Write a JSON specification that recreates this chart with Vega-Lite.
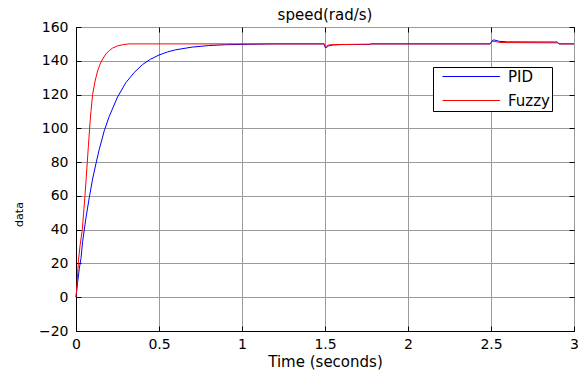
{
  "$schema": "https://vega.github.io/schema/vega-lite/v6.json",
  "width": 498,
  "height": 304,
  "autosize": {"type": "none"},
  "padding": {"left": 76, "top": 27, "right": 7, "bottom": 43},
  "background": "white",
  "title": {"text": "speed(rad/s)", "fontSize": 15, "fontWeight": "normal", "font": "DejaVu Sans", "color": "black", "offset": -3},
  "data": {"values": [
    {"t": 0, "v": 0, "c": "PID"},
    {"t": 0.01, "v": 9, "c": "PID"},
    {"t": 0.02, "v": 17, "c": "PID"},
    {"t": 0.03, "v": 23, "c": "PID"},
    {"t": 0.04, "v": 33, "c": "PID"},
    {"t": 0.06, "v": 47, "c": "PID"},
    {"t": 0.08, "v": 59, "c": "PID"},
    {"t": 0.1, "v": 70, "c": "PID"},
    {"t": 0.12, "v": 79, "c": "PID"},
    {"t": 0.14, "v": 87.5, "c": "PID"},
    {"t": 0.17, "v": 98.5, "c": "PID"},
    {"t": 0.2, "v": 107, "c": "PID"},
    {"t": 0.25, "v": 118.5, "c": "PID"},
    {"t": 0.3, "v": 127, "c": "PID"},
    {"t": 0.35, "v": 133, "c": "PID"},
    {"t": 0.4, "v": 137.7, "c": "PID"},
    {"t": 0.45, "v": 141, "c": "PID"},
    {"t": 0.5, "v": 143.4, "c": "PID"},
    {"t": 0.55, "v": 145.2, "c": "PID"},
    {"t": 0.6, "v": 146.5, "c": "PID"},
    {"t": 0.7, "v": 148.1, "c": "PID"},
    {"t": 0.8, "v": 149, "c": "PID"},
    {"t": 0.9, "v": 149.5, "c": "PID"},
    {"t": 1.0, "v": 149.7, "c": "PID"},
    {"t": 1.2, "v": 150, "c": "PID"},
    {"t": 1.495, "v": 150, "c": "PID"},
    {"t": 1.5, "v": 148, "c": "PID"},
    {"t": 1.51, "v": 147.8, "c": "PID"},
    {"t": 1.52, "v": 148.8, "c": "PID"},
    {"t": 1.55, "v": 149.4, "c": "PID"},
    {"t": 1.6, "v": 149.6, "c": "PID"},
    {"t": 1.77, "v": 149.7, "c": "PID"},
    {"t": 1.78, "v": 150, "c": "PID"},
    {"t": 2.495, "v": 150, "c": "PID"},
    {"t": 2.51, "v": 152.2, "c": "PID"},
    {"t": 2.52, "v": 152.3, "c": "PID"},
    {"t": 2.55, "v": 151.5, "c": "PID"},
    {"t": 2.6, "v": 151.2, "c": "PID"},
    {"t": 2.9, "v": 151.1, "c": "PID"},
    {"t": 2.91, "v": 150, "c": "PID"},
    {"t": 3.0, "v": 150, "c": "PID"},
    {"t": 0, "v": 0, "c": "Fuzzy"},
    {"t": 0.005, "v": 6, "c": "Fuzzy"},
    {"t": 0.01, "v": 14, "c": "Fuzzy"},
    {"t": 0.015, "v": 22, "c": "Fuzzy"},
    {"t": 0.025, "v": 31, "c": "Fuzzy"},
    {"t": 0.038, "v": 40, "c": "Fuzzy"},
    {"t": 0.046, "v": 50, "c": "Fuzzy"},
    {"t": 0.054, "v": 60, "c": "Fuzzy"},
    {"t": 0.061, "v": 70, "c": "Fuzzy"},
    {"t": 0.068, "v": 80, "c": "Fuzzy"},
    {"t": 0.075, "v": 90, "c": "Fuzzy"},
    {"t": 0.082, "v": 100, "c": "Fuzzy"},
    {"t": 0.09, "v": 110, "c": "Fuzzy"},
    {"t": 0.1, "v": 120, "c": "Fuzzy"},
    {"t": 0.115, "v": 128, "c": "Fuzzy"},
    {"t": 0.13, "v": 134, "c": "Fuzzy"},
    {"t": 0.145, "v": 138, "c": "Fuzzy"},
    {"t": 0.16, "v": 141, "c": "Fuzzy"},
    {"t": 0.18, "v": 144, "c": "Fuzzy"},
    {"t": 0.2, "v": 146, "c": "Fuzzy"},
    {"t": 0.22, "v": 147.5, "c": "Fuzzy"},
    {"t": 0.25, "v": 148.8, "c": "Fuzzy"},
    {"t": 0.28, "v": 149.5, "c": "Fuzzy"},
    {"t": 0.32, "v": 150, "c": "Fuzzy"},
    {"t": 1.495, "v": 150, "c": "Fuzzy"},
    {"t": 1.5, "v": 148.6, "c": "Fuzzy"},
    {"t": 1.51, "v": 148.6, "c": "Fuzzy"},
    {"t": 1.52, "v": 149.3, "c": "Fuzzy"},
    {"t": 1.55, "v": 149.6, "c": "Fuzzy"},
    {"t": 1.77, "v": 149.8, "c": "Fuzzy"},
    {"t": 1.78, "v": 150, "c": "Fuzzy"},
    {"t": 2.495, "v": 150, "c": "Fuzzy"},
    {"t": 2.51, "v": 151.6, "c": "Fuzzy"},
    {"t": 2.53, "v": 151.3, "c": "Fuzzy"},
    {"t": 2.56, "v": 150.8, "c": "Fuzzy"},
    {"t": 2.9, "v": 150.6, "c": "Fuzzy"},
    {"t": 2.91, "v": 150, "c": "Fuzzy"},
    {"t": 3.0, "v": 150, "c": "Fuzzy"}
  ]},
  "layer": [
    {
      "mark": {"type": "line", "strokeWidth": 1, "interpolate": "linear"},
      "encoding": {
        "x": {"field": "t", "type": "quantitative",
          "scale": {"domain": [0, 3], "nice": false, "zero": false},
          "axis": {"orient": "bottom", "title": "Time (seconds)", "values": [0, 0.5, 1, 1.5, 2, 2.5, 3], "labelExpr": "datum.value + ''", "labelFlush": false, "labelOverlap": false, "labelPadding": 11, "titlePadding": 3, "ticks": true, "tickSize": -5, "tickColor": "black"}},
        "y": {"field": "v", "type": "quantitative",
          "scale": {"domain": [-20, 160], "nice": false, "zero": false},
          "axis": {"orient": "left", "title": "data", "values": [-20, 0, 20, 40, 60, 80, 100, 120, 140, 160], "labelPadding": 13, "labelOverlap": false, "titleFontSize": 11, "titleX": -52, "titleY": 187, "titleAlign": "center", "titleAngle": -90, "ticks": true, "tickSize": -5, "tickColor": "black"}},
        "color": {"field": "c", "type": "nominal",
          "scale": {"domain": ["PID", "Fuzzy"], "range": ["#0000ff", "#ff0000"]},
          "legend": {"title": null, "orient": "none", "legendX": 357, "legendY": 40, "symbolType": "M0,0H8.2", "symbolSize": 196, "symbolStrokeWidth": 1, "labelFontSize": 15, "labelFont": "DejaVu Sans", "labelColor": "black", "strokeColor": "black", "fillColor": "white", "padding": 2, "labelOffset": 58, "rowPadding": 8}},
        "order": {"field": "t", "type": "quantitative"}
      }
    },
    {
      "mark": {"type": "line", "opacity": 0},
      "encoding": {
        "x": {"field": "t", "type": "quantitative",
          "axis": {"orient": "top", "title": null, "values": [0, 0.5, 1, 1.5, 2, 2.5, 3], "labels": false, "grid": false, "domain": false, "ticks": true, "tickSize": -5, "tickColor": "black"}},
        "y": {"field": "v", "type": "quantitative",
          "axis": {"orient": "right", "title": null, "values": [-20, 0, 20, 40, 60, 80, 100, 120, 140, 160], "labels": false, "grid": false, "domain": false, "ticks": true, "tickSize": -5, "tickColor": "black"}},
        "detail": {"field": "c", "type": "nominal"}
      }
    }
  ],
  "config": {
    "view": {"stroke": "black", "strokeWidth": 1},
    "axis": {
      "labelFont": "DejaVu Sans", "titleFont": "DejaVu Sans",
      "labelFontSize": 14, "titleFontSize": 15, "titleFontWeight": "normal",
      "labelColor": "black", "titleColor": "black",
      "domainColor": "black", "domainWidth": 1,
      "grid": true, "gridColor": "#9a9a9a", "gridWidth": 1
    }
  }
}
